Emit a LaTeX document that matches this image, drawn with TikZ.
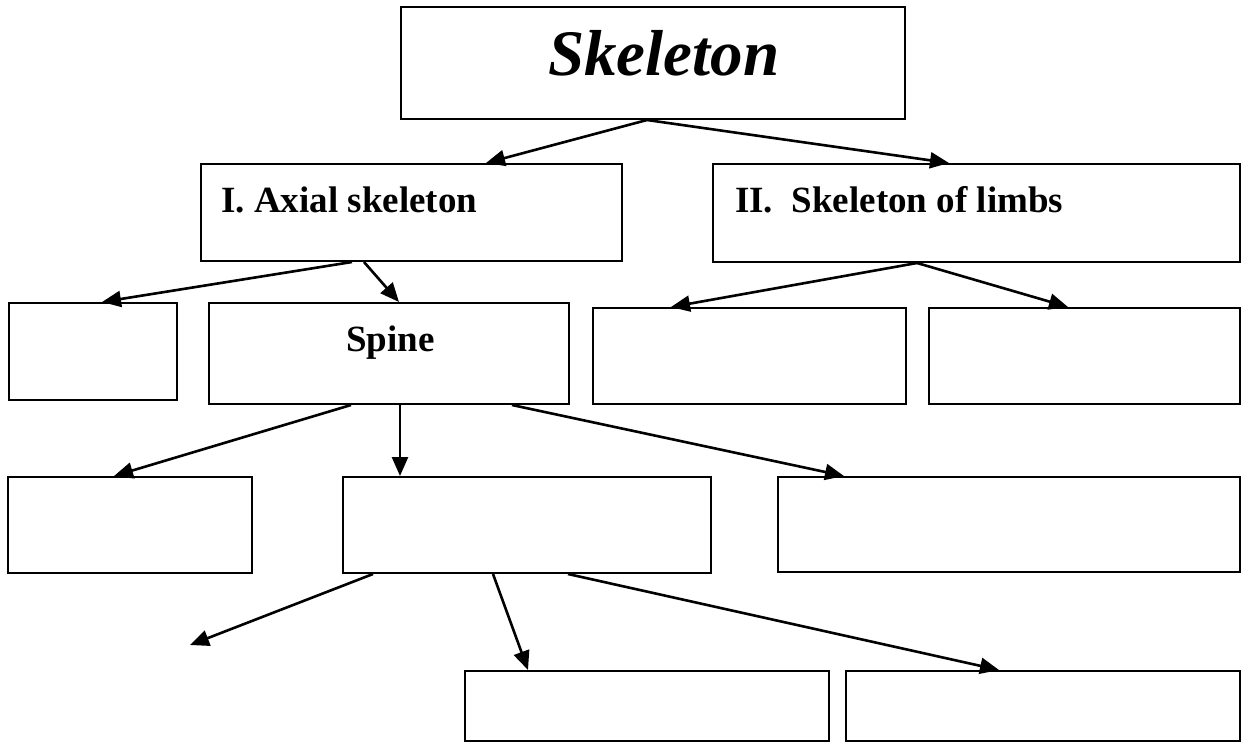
\documentclass[tikz,border=0pt]{standalone}
\usepackage{fontspec}
\setmainfont{Liberation Serif}
\usetikzlibrary{arrows.meta,calc}
\begin{document}
\begin{tikzpicture}[x=1pt,y=-1pt,
  box/.style={draw=black,line width=2pt,rectangle,inner sep=0pt,fill=none},
  lbl/.style={inner sep=0pt,font=\fontsize{37}{44}\selectfont\bfseries},
  title/.style={inner sep=0pt,font=\fontsize{65}{76}\selectfont\bfseries\itshape},
  arr/.style={line width=2.6pt,-{Triangle[length=19pt,width=16pt]}}]
\useasboundingbox[fill=white] (0,0) rectangle (1253,747);
% boxes
\node[box,minimum width=504pt,minimum height=112pt] (sk) at (653,63) {};
\node[box,minimum width=421pt,minimum height=97pt] (ax) at (411.5,212.5) {};
\node[box,minimum width=527pt,minimum height=98pt] (lb) at (976.5,213) {};
\node[box,minimum width=168pt,minimum height=97pt] (b1) at (93,351.5) {};
\node[box,minimum width=360pt,minimum height=101pt] (sp) at (389,353.5) {};
\node[box,minimum width=313pt,minimum height=96pt] (l1) at (749.5,356) {};
\node[box,minimum width=311pt,minimum height=96pt] (l2) at (1084.5,356) {};
\node[box,minimum width=244pt,minimum height=96pt] (r1) at (130,525) {};
\node[box,minimum width=368pt,minimum height=96pt] (r2) at (527,525) {};
\node[box,minimum width=462pt,minimum height=95pt] (r3) at (1009,524.5) {};
\node[box,minimum width=364pt,minimum height=70pt] (r4) at (647,706) {};
\node[box,minimum width=394pt,minimum height=70pt] (r5) at (1043,706) {};
% texts
\node[title,anchor=base west] (skt) at (548,75) {Skeleton};
\node[lbl,anchor=base west] (axt) at (221,212) {I. Axial skeleton};
\node[lbl,anchor=base west] (lbt) at (735,212) {II.\ \ Skeleton of limbs};
\node[lbl,anchor=base west] (spt) at (346,351) {Spine};
\coordinate (fe) at (190,645);
% arrows
\draw[arr] ([xshift=247pt]sk.south west) -- ([xshift=286pt]ax.north west);
\draw[arr] ([xshift=247pt]sk.south west) -- ([xshift=237pt]lb.north west);
\draw[arr] ([xshift=152pt]ax.south west) -- ([xshift=94pt]b1.north west);
\draw[arr] ([xshift=164pt]ax.south west) -- ([xshift=191pt]sp.north west);
\draw[arr] ([xshift=205pt]lb.south west) -- ([xshift=79pt]l1.north west);
\draw[arr] ([xshift=205pt]lb.south west) -- ([xshift=140pt]l2.north west);
\draw[arr] ([xshift=143pt]sp.south west) -- ([xshift=107pt]r1.north west);
\draw[arr] ([xshift=192pt]sp.south west) -- ([xshift=58pt]r2.north west);
\draw[arr] ([xshift=304pt]sp.south west) -- ([xshift=67pt]r3.north west);
\draw[arr] ([xshift=31pt]r2.south west) -- (fe);
\draw[arr] ([xshift=151pt]r2.south west) -- ([xshift=64pt]r4.north west);
\draw[arr] ([xshift=226pt]r2.south west) -- ([xshift=154pt]r5.north west);
\end{tikzpicture}
\end{document}
